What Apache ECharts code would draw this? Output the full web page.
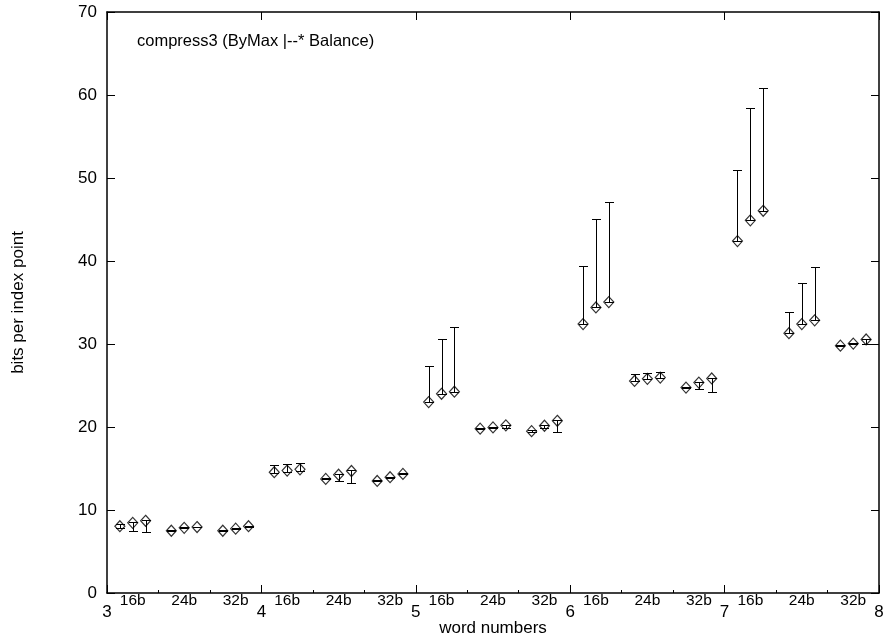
<!DOCTYPE html>
<html>
<head>
<meta charset="utf-8">
<script src="https://cdn.jsdelivr.net/npm/echarts@6/dist/echarts.min.js"></script>
<style>html,body{margin:0;padding:0;background:#fff}#c{width:886px;height:639px}</style>
</head>
<body>
<div id="c"></div>
<script>
// ---- data ----
const wordNumbers = [3, 4, 5, 6, 7];
const widths = ['16b', '24b', '32b'];
const titleText = 'compress3 (ByMax |--* Balance)';
const yTicks = [0, 10, 20, 30, 40, 50, 60, 70];

// order: 3-16b,3-24b,3-32b, 4-16b,... 7-32b
const valuesA = [8.05, 7.5, 7.5, 14.55, 13.75, 13.5, 23.0, 19.8, 19.5, 32.4, 25.55, 24.75, 42.4, 31.3, 29.8];
const lowA    = [7.85, 7.45, 7.45, 14.4, 13.7, 13.45, 23.0, 19.75, 19.45, 32.4, 25.5, 24.7, 42.4, 31.3, 29.75];
const highA   = [8.3, 7.55, 7.55, 15.4, 13.85, 13.6, 27.3, 19.9, 19.6, 39.4, 26.4, 24.85, 51.0, 33.8, 29.85];

const valuesB = [8.45, 7.85, 7.75, 14.75, 14.25, 13.95, 24.0, 19.95, 20.15, 34.4, 25.8, 25.35, 44.9, 32.4, 30.05];
const lowB    = [7.5, 7.8, 7.7, 14.6, 13.55, 13.9, 24.0, 19.9, 19.85, 34.4, 25.75, 24.6, 44.9, 32.4, 30.0];
const highB   = [8.6, 7.9, 7.8, 15.55, 14.35, 14.0, 30.6, 20.0, 20.25, 45.0, 26.45, 25.45, 58.4, 37.3, 30.1];

const valuesC = [8.7, 7.95, 8.05, 14.9, 14.7, 14.35, 24.25, 20.2, 20.75, 35.05, 25.95, 25.85, 46.05, 32.85, 30.55];
const lowC    = [7.4, 7.9, 8.0, 14.75, 13.3, 14.3, 24.25, 19.85, 19.35, 35.05, 25.9, 24.2, 46.05, 32.85, 30.0];
const highC   = [8.85, 8.0, 8.1, 15.7, 14.8, 14.4, 32.0, 20.3, 20.85, 47.05, 26.65, 25.95, 60.9, 39.3, 30.65];

// ---- build ----
const FONT = 'Liberation Sans, Arial, Helvetica, sans-serif';
const sets = [[valuesA, lowA, highA], [valuesB, lowB, highB], [valuesC, lowC, highC]];
const catLabels = [];
wordNumbers.forEach(() => widths.forEach(w => catLabels.push(w)));

function xPos(i, k) {
  const n = wordNumbers[Math.floor(i / widths.length)];
  const b = i % widths.length;
  return n + b / widths.length + (k + 1) / (widths.length * 4);
}

function renderBar(params, api) {
  const x = api.value(0);
  const lo = api.coord([x, api.value(1)]);
  const hi = api.coord([x, api.value(2)]);
  const cx = Math.round(lo[0]) + 0.5;
  const ly = Math.round(lo[1]) + 0.5, hy = Math.round(hi[1]) + 0.5;
  const w = 4.5;
  const st = { stroke: '#000', lineWidth: 1 };
  return {
    type: 'group',
    children: [
      { type: 'line', shape: { x1: cx, y1: ly, x2: cx, y2: hy }, style: st },
      { type: 'line', shape: { x1: cx - w, y1: ly, x2: cx + w, y2: ly }, style: st },
      { type: 'line', shape: { x1: cx - w, y1: hy, x2: cx + w, y2: hy }, style: st }
    ]
  };
}

const series = [];
sets.forEach((s, k) => {
  const [vals, lows, highs] = s;
  series.push({
    type: 'custom',
    renderItem: renderBar,
    data: vals.map((v, i) => [xPos(i, k), lows[i], highs[i]]),
    encode: { x: 0, y: [1, 2] },
    silent: true,
    z: 3
  });
  series.push({
    type: 'scatter',
    symbol: 'diamond',
    symbolSize: [10, 11],
    data: vals.map((v, i) => [xPos(i, k), v]),
    itemStyle: { color: 'rgba(0,0,0,0)', borderColor: '#000', borderWidth: 1.2 },
    silent: true,
    z: 4
  });
});

const axisLineStyle = { color: '#000', width: 1.5 };
const chart = echarts.init(document.getElementById('c'), null, { renderer: 'canvas' });
chart.setOption({
  animation: false,
  backgroundColor: '#fff',
  title: {
    text: titleText, left: 132, top: 28,
    textStyle: { fontFamily: FONT, fontSize: 16.5, fontWeight: 'normal', color: '#000' }
  },
  grid: { left: 107, right: 7, top: 12, bottom: 46, containLabel: false, outerBoundsMode: 'none' },
  xAxis: [
    {
      type: 'value', min: 3, max: 8, interval: 1, position: 'bottom',
      name: 'word numbers', nameLocation: 'middle', nameGap: 27, nameMoveOverlap: false,
      nameTextStyle: { fontFamily: FONT, fontSize: 17, color: '#000' },
      axisLine: { show: true, lineStyle: axisLineStyle },
      axisTick: { show: true, inside: true, length: 8, lineStyle: { color: '#000', width: 1 } },
      axisLabel: { fontFamily: FONT, fontSize: 17, color: '#000', margin: 10.5 },
      splitLine: { show: false }
    },
    {
      type: 'category', data: catLabels, position: 'bottom', boundaryGap: true, offset: 0,
      axisLine: { show: false },
      axisTick: { show: true, inside: true, length: 3, lineStyle: { color: '#000', width: 1 } },
      axisLabel: { fontFamily: FONT, fontSize: 15.5, color: '#000', margin: 0, interval: 0 },
      splitLine: { show: false }
    },
    {
      type: 'value', min: 3, max: 8, interval: 1, position: 'top',
      axisLine: { show: true, lineStyle: axisLineStyle },
      axisTick: { show: true, inside: true, length: 8, lineStyle: { color: '#000', width: 1 } },
      axisLabel: { show: false },
      splitLine: { show: false }
    }
  ],
  yAxis: [
    {
      type: 'value', min: yTicks[0], max: yTicks[yTicks.length - 1], interval: 10, position: 'left',
      name: 'bits per index point', nameLocation: 'middle', nameGap: 80, nameRotate: 90, nameMoveOverlap: false,
      nameTextStyle: { fontFamily: FONT, fontSize: 17, color: '#000' },
      axisLine: { show: true, lineStyle: axisLineStyle },
      axisTick: { show: true, inside: true, length: 8, lineStyle: { color: '#000', width: 1 } },
      axisLabel: { fontFamily: FONT, fontSize: 17, color: '#000', margin: 10 },
      splitLine: { show: false }
    },
    {
      type: 'value', min: yTicks[0], max: yTicks[yTicks.length - 1], interval: 10, position: 'right',
      axisLine: { show: true, lineStyle: axisLineStyle },
      axisTick: { show: true, inside: true, length: 8, lineStyle: { color: '#000', width: 1 } },
      axisLabel: { show: false },
      splitLine: { show: false }
    }
  ],
  series: series
});
</script>
</body>
</html>
